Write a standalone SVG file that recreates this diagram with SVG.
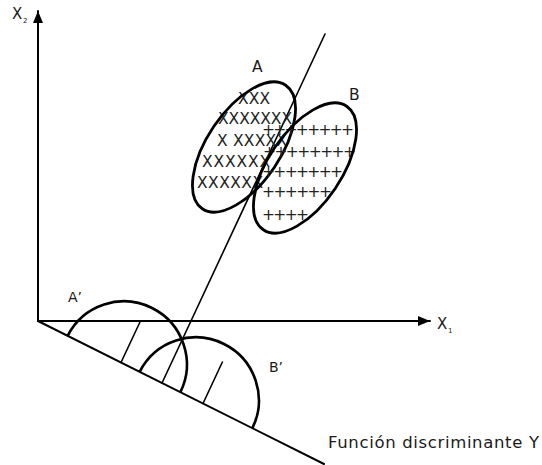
<svg xmlns="http://www.w3.org/2000/svg" width="542" height="465" viewBox="0 0 542 465">
<style>
.ln{stroke:#000;stroke-width:2;fill:none;stroke-linecap:round}
.thin{stroke:#000;stroke-width:1.6;fill:none;stroke-linecap:round}
.ell{stroke:#000;stroke-width:2.8;fill:none}
.arc{stroke:#000;stroke-width:2.6;fill:none}
.t{font-family:"DejaVu Sans",sans-serif;fill:#1a1a1a}
.m{font-family:"DejaVu Sans",sans-serif;font-size:15.5px;fill:#222}
</style>
<defs>
<marker id="ah" viewBox="0 0 12 10" refX="12" refY="5" markerWidth="12" markerHeight="10" markerUnits="userSpaceOnUse" orient="auto">
<path d="M0,0 L12,5 L0,10 Z" fill="#000"/>
</marker>
</defs>
<rect width="542" height="465" fill="#fff"/>
<g id="axes">
<line class="ln" x1="38" y1="321" x2="38" y2="11" marker-end="url(#ah)"/>
<line class="ln" x1="38" y1="321" x2="430" y2="321" marker-end="url(#ah)"/>
<text class="t" x="12" y="19" font-size="15">X</text>
<text class="t" x="23" y="23" font-size="7">2</text>
<text class="t" x="437" y="329" font-size="15">X</text>
<text class="t" x="448" y="333" font-size="7">1</text>
</g>
<g id="connectors">
<line class="ln" x1="38" y1="321" x2="324" y2="464"/>
<line class="thin" x1="325" y1="34" x2="162" y2="383"/>
</g>
<g id="groupA">
<text class="m" x="238" y="104" textLength="32" lengthAdjust="spacing">XXX</text>
<text class="m" x="218" y="124" textLength="74" lengthAdjust="spacing">XXXXXXX</text>
<text class="m" x="217" y="146" textLength="70" lengthAdjust="spacing">X XXXXX</text>
<text class="m" x="202" y="167" textLength="68" lengthAdjust="spacing">XXXXXX</text>
<text class="m" x="197" y="188" textLength="66" lengthAdjust="spacing">XXXXXX</text>
<ellipse class="ell" cx="244" cy="147" rx="36.5" ry="74.5" transform="rotate(34 244 147)"/>
<text class="t" x="252" y="72" font-size="15.5">A</text>
</g>
<g id="groupB">
<text class="m" x="262" y="135" textLength="92" lengthAdjust="spacing">++++++++</text>
<text class="m" x="263" y="157" textLength="93" lengthAdjust="spacing">++++++++</text>
<text class="m" x="262" y="177" textLength="81" lengthAdjust="spacing">+++++++</text>
<text class="m" x="262" y="197" textLength="70" lengthAdjust="spacing">++++++</text>
<text class="m" x="262" y="220" textLength="47" lengthAdjust="spacing">++++</text>
<ellipse class="ell" cx="305" cy="168" rx="36.5" ry="74.5" transform="rotate(34 305 168)"/>
<text class="t" x="349" y="100" font-size="15.5">B</text>
</g>
<g id="projA">
<path class="arc" d="M67.65 335.83 A63 63 0 0 1 180.35 392.17"/>
<line class="thin" x1="121" y1="362.5" x2="140" y2="322"/>
<text class="t" x="68" y="302" font-size="14">A’</text>
</g>
<g id="projB">
<path class="arc" d="M139.65 371.83 A63 63 0 0 1 252.35 428.17"/>
<line class="thin" x1="203" y1="403.5" x2="222.4" y2="362"/>
<text class="t" x="269" y="372" font-size="14">B’</text>
</g>
<g id="label">
<text class="t" x="328" y="448" font-size="16.5" textLength="211" lengthAdjust="spacing">Función discriminante Y</text>
</g>
</svg>
